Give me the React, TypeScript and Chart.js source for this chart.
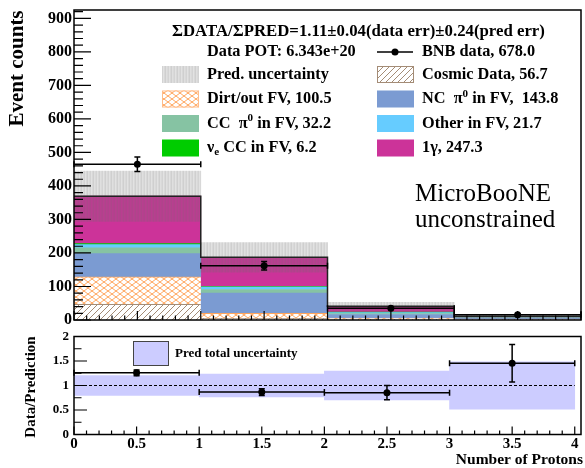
import React, { useEffect, useRef } from 'react';
import { Chart, registerables } from 'chart.js';

Chart.register(...registerables);

// ---------------- data ----------------
const binEdges = [0, 1, 2, 3, 4];
const binCenters = [0.5, 1.5, 2.5, 3.5];

const cosmicData = [47, 5, 3, 1.7];
const dirtOutFV = [82, 15, 2.5, 1];
const ncPi0InFV = [69, 60, 11, 3.8];
const ccPi0InFV = [17, 11, 3, 1.2];
const otherInFV = [10, 7, 3, 1.7];
const nueCCInFV = [3, 2, 0.8, 0.4];
const oneGamma = [141.4, 87, 17.7, 1.2];

const bnbData = [465, 162, 35, 16];
const bnbDataErr = [21.6, 12.7, 5.9, 4.2];
const predUncertainty = [75, 44, 12, 5.3];

// ---------------- texts ----------------
const summaryLabel = 'ΣDATA/ΣPRED=1.11±0.04(data err)±0.24(pred err)';
const potLabel = 'Data POT: 6.343e+20';
const dataLegendLabel = 'BNB data, 678.0';
type Seg = { t: string; k?: 'sup' | 'sub' };
const uncLegend: Seg[] = [{ t: 'Pred. uncertainty' }];
const cosmicLegend: Seg[] = [{ t: 'Cosmic Data, 56.7' }];
const dirtLegend: Seg[] = [{ t: 'Dirt/out FV, 100.5' }];
const ncLegend: Seg[] = [{ t: 'NC  π' }, { t: '0', k: 'sup' }, { t: ' in FV,  143.8' }];
const ccLegend: Seg[] = [{ t: 'CC  π' }, { t: '0', k: 'sup' }, { t: ' in FV, 32.2' }];
const otherLegend: Seg[] = [{ t: 'Other in FV, 21.7' }];
const nueLegend: Seg[] = [{ t: 'ν' }, { t: 'e', k: 'sub' }, { t: ' CC in FV, 6.2' }];
const gammaLegend: Seg[] = [{ t: '1γ, 247.3' }];
const experimentLines = ['MicroBooNE', 'unconstrained'];
const ratioLegendLabel = 'Pred total uncertainty';
const topYTitle = 'Event counts';
const botYTitle = 'Data/Prediction';
const xTitle = 'Number of Protons';

const FONT = '"Liberation Serif", "Times New Roman", serif';

function makeTile(w: number, h: number, paint: (c: CanvasRenderingContext2D) => void) {
  const cv = document.createElement('canvas');
  cv.width = w;
  cv.height = h;
  const c = cv.getContext('2d')!;
  paint(c);
  return c.createPattern(cv, 'repeat')!;
}

function drawRich(ctx: CanvasRenderingContext2D, segs: Seg[], x: number, y: number, size: number) {
  let cx = x;
  ctx.textBaseline = 'middle';
  ctx.textAlign = 'left';
  for (const s of segs) {
    const sz = s.k ? size * 0.68 : size;
    ctx.font = `bold ${sz}px ${FONT}`;
    const dy = s.k === 'sup' ? -size * 0.3 : s.k === 'sub' ? size * 0.28 : 0;
    ctx.fillText(s.t, cx, y + dy);
    cx += ctx.measureText(s.t).width;
  }
}

type AxSpec = {
  yMin: number; yMax: number; yMinor: number; yPerMajor: number; yMajLen: number; yMinLen: number;
  xMin: number; xMax: number; xMinor: number; xPerMajor: number; xMajLen: number; xMinLen: number;
};

function drawAxes(chart: any, s: AxSpec) {
  const { ctx, chartArea: a, scales } = chart;
  const x = scales.x, y = scales.y;
  ctx.save();
  ctx.strokeStyle = '#000';
  ctx.lineWidth = 1.2;
  ctx.beginPath();
  const ny = Math.round((s.yMax - s.yMin) / s.yMinor);
  for (let i = 0; i <= ny; i++) {
    const p = y.getPixelForValue(s.yMin + i * s.yMinor);
    if (p < a.top - 0.5) continue;
    const len = i % s.yPerMajor === 0 ? s.yMajLen : s.yMinLen;
    ctx.moveTo(a.left, p);
    ctx.lineTo(a.left + len, p);
  }
  const nx = Math.round((s.xMax - s.xMin) / s.xMinor);
  for (let i = 0; i <= nx; i++) {
    const p = x.getPixelForValue(s.xMin + i * s.xMinor);
    const len = i % s.xPerMajor === 0 ? s.xMajLen : s.xMinLen;
    ctx.moveTo(p, a.bottom);
    ctx.lineTo(p, a.bottom - len);
  }
  ctx.stroke();
  ctx.lineWidth = 1.5;
  ctx.strokeRect(a.left, a.top, a.right - a.left, a.bottom - a.top);
  ctx.restore();
}

function drawErrorBars(chart: any, xs: number[], ys: number[], xlo: number[], xhi: number[], yerr: number[]) {
  const { ctx, scales } = chart;
  const x = scales.x, y = scales.y;
  ctx.save();
  ctx.strokeStyle = '#000';
  ctx.lineWidth = 1.5;
  ctx.beginPath();
  for (let i = 0; i < xs.length; i++) {
    const px = x.getPixelForValue(xs[i]);
    const py = y.getPixelForValue(ys[i]);
    const l = x.getPixelForValue(xlo[i]);
    const r = x.getPixelForValue(xhi[i]);
    const t = y.getPixelForValue(ys[i] + yerr[i]);
    const b = y.getPixelForValue(ys[i] - yerr[i]);
    ctx.moveTo(l, py); ctx.lineTo(r, py);
    ctx.moveTo(l, py - 3); ctx.lineTo(l, py + 3);
    ctx.moveTo(r, py - 3); ctx.lineTo(r, py + 3);
    if (b - t > 4) {
      ctx.moveTo(px, t); ctx.lineTo(px, b);
      ctx.moveTo(px - 3, t); ctx.lineTo(px + 3, t);
      ctx.moveTo(px - 3, b); ctx.lineTo(px + 3, b);
    }
  }
  ctx.stroke();
  ctx.restore();
}

export default function App() {
  const topRef = useRef<HTMLCanvasElement | null>(null);
  const botRef = useRef<HTMLCanvasElement | null>(null);

  useEffect(() => {
    const pCosmic = makeTile(6, 6, (c) => {
      c.fillStyle = '#fff';
      c.fillRect(0, 0, 6, 6);
      c.strokeStyle = '#a48c76';
      c.lineWidth = 1;
      c.beginPath();
      for (const k of [0, 6, 12]) { c.moveTo(k - 8, 8); c.lineTo(k + 8 - 8 + 8, -8 + 0); }
      c.stroke();
    });
    const pDirt = makeTile(8, 6, (c) => {
      c.fillStyle = '#fff';
      c.fillRect(0, 0, 8, 6);
      c.strokeStyle = '#ffa65e';
      c.lineWidth = 1;
      c.beginPath();
      c.moveTo(0, 0); c.lineTo(8, 6);
      c.moveTo(0, 6); c.lineTo(8, 0);
      c.stroke();
    });
    const pUnc = makeTile(6, 2, (c) => {
      const alphas = [0.3, 0.2, 0.27, 0.33, 0.22, 0.26];
      alphas.forEach((a, i) => {
        c.fillStyle = `rgba(110,110,110,${a})`;
        c.fillRect(i, 0, 1, 2);
      });
    });

    const stackSeries = [
      { label: 'Cosmic Data', values: cosmicData, color: pCosmic as any, edge: '#a48c76' },
      { label: 'Dirt/out FV', values: dirtOutFV, color: pDirt as any, edge: '#ffa65e' },
      { label: 'NC pi0 in FV', values: ncPi0InFV, color: '#7b9bd2', edge: '' },
      { label: 'CC pi0 in FV', values: ccPi0InFV, color: '#86c3a3', edge: '' },
      { label: 'Other in FV', values: otherInFV, color: '#66ccff', edge: '' },
      { label: 'nue CC in FV', values: nueCCInFV, color: '#00cc00', edge: '' },
      { label: '1gamma', values: oneGamma, color: '#cc3399', edge: '' },
    ];
    const predTotal = binCenters.map((_, i) => stackSeries.reduce((s, d) => s + d.values[i], 0));
    const binLo = binEdges.slice(0, -1);
    const binHi = binEdges.slice(1);

    const stackDatasets = stackSeries.map((s) => ({
      type: 'bar',
      label: s.label,
      data: binCenters.map((x, i) => ({ x, y: s.values[i] })),
      backgroundColor: s.color,
      borderColor: s.edge || s.color,
      borderWidth: s.edge ? { top: 1, left: 0, right: 0, bottom: 0 } : 0,
      stack: 'mc',
      grouped: false,
      categoryPercentage: 1,
      barPercentage: 1,
      order: 10,
    }));

    const topDecor = {
      id: 'topDecor',
      afterDatasetsDraw(chart: any) {
        drawErrorBars(chart, binCenters, bnbData, binLo, binHi, bnbDataErr);
      },
      afterDraw(chart: any) {
        const ctx: CanvasRenderingContext2D = chart.ctx;
        drawAxes(chart, {
          yMin: 0, yMax: 920, yMinor: 20, yPerMajor: 5, yMajLen: 17, yMinLen: 9,
          xMin: 0, xMax: 4, xMinor: 0.1, xPerMajor: 5, xMajLen: 9, xMinLen: 4.5,
        });
        ctx.save();
        ctx.fillStyle = '#000';
        // y title
        ctx.save();
        ctx.translate(18, 68.5);
        ctx.rotate(-Math.PI / 2);
        ctx.font = `bold 21px ${FONT}`;
        ctx.textAlign = 'center';
        ctx.textBaseline = 'middle';
        ctx.fillText(topYTitle, 0, 0);
        ctx.restore();
        // legend header
        drawRich(ctx, [{ t: summaryLabel }], 172, 32, 16.8);
        drawRich(ctx, [{ t: potLabel }], 207, 52, 16.3);
        ctx.strokeStyle = '#000';
        ctx.lineWidth = 1.5;
        ctx.beginPath();
        ctx.moveTo(377, 52); ctx.lineTo(413, 52);
        ctx.stroke();
        ctx.beginPath();
        ctx.arc(395, 52, 3.5, 0, Math.PI * 2);
        ctx.fill();
        drawRich(ctx, [{ t: dataLegendLabel }], 422, 52, 16.3);
        const rows = [74.5, 99, 123.5, 148];
        const left = [
          { segs: uncLegend, fill: pUnc as any, edge: '' },
          { segs: dirtLegend, fill: pDirt as any, edge: '#ffbb88' },
          { segs: ccLegend, fill: '#86c3a3', edge: '' },
          { segs: nueLegend, fill: '#00cc00', edge: '' },
        ];
        const right = [
          { segs: cosmicLegend, fill: pCosmic as any, edge: '#a48c76' },
          { segs: ncLegend, fill: '#7b9bd2', edge: '' },
          { segs: otherLegend, fill: '#66ccff', edge: '' },
          { segs: gammaLegend, fill: '#cc3399', edge: '' },
        ];
        const drawEntry = (e: any, sx: number, tx: number, y: number) => {
          ctx.fillStyle = e.fill;
          ctx.fillRect(sx, y - 8.5, 37, 17);
          if (e.edge) {
            ctx.strokeStyle = e.edge;
            ctx.lineWidth = 1;
            ctx.strokeRect(sx + 0.5, y - 8, 36, 16);
          }
          ctx.fillStyle = '#000';
          drawRich(ctx, e.segs, tx, y, 16.3);
        };
        rows.forEach((y, i) => {
          drawEntry(left[i], 162, 207, y);
          drawEntry(right[i], 377, 422, y);
        });
        // experiment label
        ctx.fillStyle = '#000';
        ctx.font = `25px ${FONT}`;
        ctx.textAlign = 'left';
        ctx.textBaseline = 'alphabetic';
        ctx.fillText(experimentLines[0], 415, 200.5);
        ctx.fillText(experimentLines[1], 415, 227);
        ctx.restore();
      },
    };

    const top = new Chart(topRef.current!, {
      type: 'bar',
      data: {
        datasets: [
          ...stackDatasets,
          {
            type: 'bar',
            label: 'Pred. uncertainty',
            data: binCenters.map((x, i) => ({ x, y: [predTotal[i] - predUncertainty[i], predTotal[i] + predUncertainty[i]] })),
            backgroundColor: pUnc as any,
            borderWidth: 0,
            stack: 'unc',
            grouped: false,
            categoryPercentage: 1,
            barPercentage: 1,
            order: 5,
          },
          {
            type: 'line',
            label: 'total',
            data: binEdges.map((x, i) => ({ x, y: predTotal[Math.min(i, predTotal.length - 1)] })),
            stepped: 'before',
            borderColor: '#222',
            borderWidth: 1.5,
            pointRadius: 0,
            fill: false,
            stack: 'outline',
            order: 3,
          },
          {
            type: 'scatter',
            label: 'BNB data',
            data: binCenters.map((x, i) => ({ x, y: bnbData[i] })),
            pointRadius: 3.5,
            pointBackgroundColor: '#000',
            pointBorderWidth: 0,
            stack: 'data',
            order: 1,
          },
        ] as any,
      },
      options: {
        animation: false,
        responsive: false,
        devicePixelRatio: 1,
        layout: { padding: { top: 9, right: 2, bottom: 0, left: 0 } },
        plugins: { legend: { display: false }, tooltip: { enabled: false } },
        scales: {
          x: {
            type: 'linear', offset: false, min: 0, max: 4,
            ticks: { display: false, stepSize: 1 },
            grid: { display: false, drawTicks: false },
            border: { display: false },
            afterFit: (s: any) => { s.height = 8.5; },
          },
          y: {
            type: 'linear', stacked: true, min: 0, max: 925,
            ticks: { stepSize: 100, includeBounds: false, color: '#000', padding: 2, font: { family: FONT, weight: 'bold', size: 16, lineHeight: 1 } },
            grid: { display: false, drawTicks: false },
            border: { display: false },
            afterFit: (s: any) => { s.width = 74; },
          },
        },
      } as any,
      plugins: [topDecor],
    });

    const ratio = bnbData.map((d, i) => d / predTotal[i]);
    const ratioErr = bnbDataErr.map((e, i) => e / predTotal[i]);
    const bandErr = predUncertainty.map((e, i) => e / predTotal[i]);

    const botDecor = {
      id: 'botDecor',
      afterDatasetsDraw(chart: any) {
        drawErrorBars(chart, binCenters, ratio, binLo, binHi, ratioErr);
      },
      afterDraw(chart: any) {
        const ctx: CanvasRenderingContext2D = chart.ctx;
        drawAxes(chart, {
          yMin: 0, yMax: 2, yMinor: 0.25, yPerMajor: 2, yMajLen: 13, yMinLen: 7.5,
          xMin: 0, xMax: 4, xMinor: 0.1, xPerMajor: 5, xMajLen: 8, xMinLen: 4,
        });
        ctx.save();
        // legend box
        ctx.fillStyle = '#ccccff';
        ctx.fillRect(133, 16, 35, 24);
        ctx.strokeStyle = '#444';
        ctx.lineWidth = 1;
        ctx.strokeRect(133.5, 16.5, 35, 24);
        ctx.fillStyle = '#000';
        drawRich(ctx, [{ t: ratioLegendLabel }], 175, 28.5, 13);
        // y title
        ctx.save();
        ctx.translate(31, 62);
        ctx.rotate(-Math.PI / 2);
        ctx.font = `bold 15px ${FONT}`;
        ctx.textAlign = 'center';
        ctx.textBaseline = 'middle';
        ctx.fillText(botYTitle, 0, 0);
        ctx.restore();
        // x title
        ctx.font = `bold 15.5px ${FONT}`;
        ctx.textAlign = 'right';
        ctx.textBaseline = 'alphabetic';
        ctx.fillText(xTitle, 583, 139);
        ctx.restore();
      },
    };

    const bot = new Chart(botRef.current!, {
      type: 'bar',
      data: {
        datasets: [
          {
            type: 'scatter',
            label: 'Data/Prediction',
            data: binCenters.map((x, i) => ({ x, y: ratio[i] })),
            pointRadius: 3.5,
            pointBackgroundColor: '#000',
            pointBorderWidth: 0,
            order: 1,
          },
          {
            type: 'line',
            label: 'unity',
            data: [{ x: binEdges[0], y: 1 }, { x: binEdges[binEdges.length - 1], y: 1 }],
            borderColor: '#000',
            borderWidth: 1,
            borderDash: [3, 2],
            pointRadius: 0,
            fill: false,
            order: 2,
          },
          {
            type: 'bar',
            label: 'Pred total uncertainty',
            data: binCenters.map((x, i) => ({ x, y: [1 - bandErr[i], 1 + bandErr[i]] })),
            backgroundColor: '#ccccff',
            borderWidth: 0,
            barThickness: 'flex',
            categoryPercentage: 1,
            barPercentage: 1,
            order: 3,
          },
        ] as any,
      },
      options: {
        animation: false,
        responsive: false,
        devicePixelRatio: 1,
        layout: { padding: { top: 9.5, right: 2, bottom: 0, left: 0 } },
        plugins: { legend: { display: false }, tooltip: { enabled: false } },
        scales: {
          x: {
            type: 'linear', offset: false, min: 0, max: 4.05,
            ticks: { stepSize: 0.5, includeBounds: false, autoSkip: false, maxRotation: 0, color: '#000', padding: 1, font: { family: FONT, weight: 'bold', size: 15 }, callback: (v: any) => String(v) },
            grid: { display: false, drawTicks: false },
            border: { display: false },
            afterFit: (s: any) => { s.height = 33.5; },
          },
          y: {
            type: 'linear', min: 0, max: 2,
            ticks: { stepSize: 0.5, includeBounds: false, color: '#000', padding: 5, font: { family: FONT, weight: 'bold', size: 13, lineHeight: 1 }, callback: (v: any) => String(v) },
            grid: { display: false, drawTicks: false },
            border: { display: false },
            afterFit: (s: any) => { s.width = 74; },
          },
        },
      } as any,
      plugins: [botDecor],
    });

    return () => {
      top.destroy();
      bot.destroy();
    };
  }, []);

  return (
    <div style={{ position: 'absolute', left: 0, top: 0, width: 585, height: 468, background: '#fff' }}>
      <canvas ref={topRef} width={585} height={330} style={{ position: 'absolute', left: 0, top: 0 }} />
      <canvas ref={botRef} width={585} height={143} style={{ position: 'absolute', left: 0, top: 325 }} />
    </div>
  );
}
